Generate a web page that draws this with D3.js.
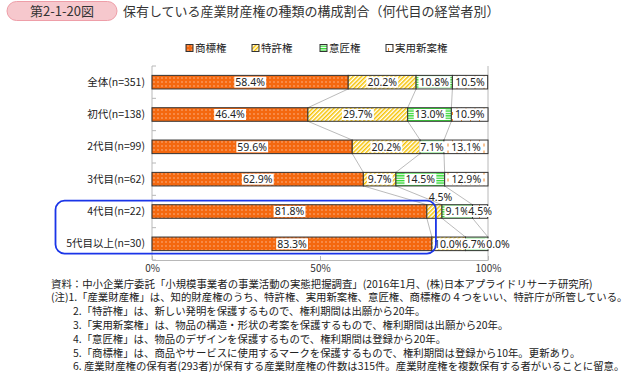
<!DOCTYPE html>
<html>
<head>
<meta charset="utf-8">
<script src="https://cdn.jsdelivr.net/npm/d3@7"></script>
<style>
  body { margin: 0; background: #fff; }
  svg { display: block; }
  text { font-family: "Noto Sans CJK JP", "Noto Sans", sans-serif; fill: #222; }
</style>
</head>
<body>
<div id="vis"></div>
<script>
var categories = ["全体(n=351)", "初代(n=138)", "2代目(n=99)", "3代目(n=62)", "4代目(n=22)", "5代目以上(n=30)"];
var series = ["商標権", "特許権", "意匠権", "実用新案権"];
var trademark = [58.4, 46.4, 59.6, 62.9, 81.8, 83.3];
var patent = [20.2, 29.7, 20.2, 9.7, 4.5, 10.0];
var design = [10.8, 13.0, 7.1, 14.5, 9.1, 6.7];
var utility = [10.5, 10.9, 13.1, 12.9, 4.5, 0.0];
var xTicks = [0, 50, 100];
var notes = [
  "資料：中小企業庁委託「小規模事業者の事業活動の実態把握調査」(2016年1月、(株)日本アプライドリサーチ研究所)",
  "(注)1.「産業財産権」は、知的財産権のうち、特許権、実用新案権、意匠権、商標権の４つをいい、特許庁が所管している。",
  "2.「特許権」は、新しい発明を保護するもので、権利期間は出願から20年。",
  "3.「実用新案権」は、物品の構造・形状の考案を保護するもので、権利期間は出願から20年。",
  "4.「意匠権」は、物品のデザインを保護するもので、権利期間は登録から20年。",
  "5.「商標権」は、商品やサービスに使用するマークを保護するもので、権利期間は登録から10年。更新あり。",
  "6. 産業財産権の保有者(293者)が保有する産業財産権の件数は315件。産業財産権を複数保有する者がいることに留意。"
];

// small stand-in for d3-selection-multi
d3.selection.prototype.attrs = function(o) {
  var sel = this;
  Object.keys(o).forEach(function(k) { sel.attr(k, o[k]); });
  return sel;
};

var values = [trademark, patent, design, utility];
var rows = categories.map(function(c, i) {
  var acc = 0;
  var segs = values.map(function(v, k) {
    var s = { cat: c, key: k, v: v[i], x0: acc, x1: acc + v[i] };
    acc += v[i];
    return s;
  });
  return { cat: c, segs: segs };
});

var W = 636, H = 374;
var svg = d3.select("#vis").append("svg").attr("width", W).attr("height", H);

var x = d3.scaleLinear().domain([0, 100]).range([152, 488]);
var y = d3.scaleBand().domain(categories).range([66, 260]).paddingInner(0.58).paddingOuter(0.29);

// patterns
var defs = svg.append("defs");
var p0 = defs.append("pattern").attrs({ id: "pat0", width: 4, height: 4, patternUnits: "userSpaceOnUse" });
p0.append("rect").attrs({ width: 4, height: 4, fill: "#f4680f" });
p0.append("rect").attrs({ x: 1.5, y: 1.5, width: 1, height: 1, fill: "#fff", opacity: 0.9 });

var p1 = defs.append("pattern").attrs({ id: "pat1", width: 3, height: 3, patternUnits: "userSpaceOnUse", patternTransform: "rotate(45)" });
p1.append("rect").attrs({ width: 3, height: 3, fill: "#fff" });
p1.append("rect").attrs({ width: 1.5, height: 3, fill: "#f6c200" });

var p2 = defs.append("pattern").attrs({ id: "pat2", width: 4, height: 2.4, patternUnits: "userSpaceOnUse" });
p2.append("rect").attrs({ width: 4, height: 2.4, fill: "#fff" });
p2.append("rect").attrs({ width: 4, height: 1.3, fill: "#2fd82f" });

var p3 = defs.append("pattern").attrs({ id: "pat3", width: 9, height: 7, patternUnits: "userSpaceOnUse" });
p3.append("rect").attrs({ width: 9, height: 7, fill: "#fff" });
p3.append("rect").attrs({ x: 2, y: 0, width: 1, height: 3, fill: "#f28a2a" });
p3.append("rect").attrs({ x: 6.5, y: 3.5, width: 1, height: 3, fill: "#f28a2a" });

// title
svg.append("rect").attrs({ x: 7, y: 1.5, width: 110, height: 19, rx: 9.5, fill: "#f6c8cd", stroke: "#ee9ea8" });
svg.append("text").attrs({ x: 62, y: 15.5, "text-anchor": "middle", "font-size": 13 }).style("fill", "#333").text("第2-1-20図");
svg.append("text").attrs({ x: 123, y: 16, "font-size": 13 }).style("fill", "#333")
  .text("保有している産業財産権の種類の構成割合（何代目の経営者別）");

// legend
var legX = [186, 252, 320, 386];
var leg = svg.selectAll(".leg").data(series).enter().append("g")
  .attr("class", "leg")
  .attr("transform", function(d, i) { return "translate(" + legX[i] + ",48)"; });
leg.append("rect").attrs({ x: 0, y: -3.5, width: 7, height: 7, stroke: "#333", "stroke-width": 1,
  fill: function(d, i) { return "url(#pat" + i + ")"; } });
leg.append("text").attrs({ x: 9, y: 4, "font-size": 10.5 }).text(function(d) { return d; });

// frame
var frame = svg.append("g").attr("stroke", "#b8b8b8").attr("fill", "none");
frame.append("line").attrs({ x1: x(0), x2: x(0), y1: 66, y2: 260 });
frame.append("line").attrs({ x1: x(100), x2: x(100), y1: 66, y2: 260 });
d3.range(categories.length + 1).forEach(function(k) {
  var yy = 66 + k * y.step();
  frame.append("line").attrs({ x1: x(0), x2: x(0) + 4, y1: yy, y2: yy });
});

var x_axis = d3.axisBottom(x).tickValues(xTicks).tickSizeInner(-4).tickSizeOuter(0).tickPadding(5)
  .tickFormat(function(d) { return d + "%"; });
var gx = svg.append("g").attr("transform", "translate(0,260)").call(x_axis);
gx.selectAll("path, line").attr("stroke", "#b8b8b8");
gx.selectAll("text").attr("font-size", 10).style("fill", "#333").attr("font-family", "\"Noto Sans CJK JP\", sans-serif");

var y_axis = d3.axisLeft(y).tickSize(0).tickPadding(7);
var gy = svg.append("g").attr("transform", "translate(" + x(0) + ",0)").call(y_axis);
gy.select(".domain").remove();
gy.selectAll("text").attr("font-size", 10.5).style("fill", "#222").attr("font-family", "\"Noto Sans CJK JP\", sans-serif");

// connector lines
var conn = svg.append("g").attr("stroke", "#aaa").attr("stroke-width", 0.8);
rows.forEach(function(r, i) {
  if (i === rows.length - 1) return;
  var nx = rows[i + 1];
  [0, 1, 2].forEach(function(k) {
    conn.append("line").attrs({
      x1: x(r.segs[k].x1), y1: y(r.cat) + y.bandwidth(),
      x2: x(nx.segs[k].x1), y2: y(nx.cat)
    });
  });
});

// bars
var row = svg.selectAll(".row").data(rows).enter().append("g").attr("class", "row");
row.selectAll("rect").data(function(d) { return d.segs; }).enter().append("rect")
  .attr("x", function(d) { return x(d.x0); })
  .attr("y", function(d) { return y(d.cat); })
  .attr("width", function(d) { return x(d.x1) - x(d.x0); })
  .attr("height", y.bandwidth())
  .attr("fill", function(d) { return "url(#pat" + d.key + ")"; })
  .attr("stroke", "#333")
  .attr("stroke-width", 1);

// labels
function isAbove(d) { return d.v > 0 && x(d.x1) - x(d.x0) < 20 && d.key < 3; }
var lab = row.selectAll(".lab").data(function(d) { return d.segs; }).enter().append("g").attr("class", "lab")
  .attr("transform", function(d) {
    var cx = (x(d.x0) + x(d.x1)) / 2, cy = y(d.cat) + y.bandwidth() / 2;
    if (d.v === 0) cx = x(d.x1) + 10;
    else if (isAbove(d)) { cx += 6; cy = y(d.cat) - 7; }
    else if (d.key === 2 && d.x1 > 99.9) cx -= 3;
    return "translate(" + cx + "," + cy + ")";
  });
lab.append("text")
  .attr("text-anchor", "middle")
  .attr("dy", "0.35em")
  .attr("font-size", 10.5)
  .style("font-family", "\"Liberation Sans Narrow\", \"Noto Sans\", sans-serif")
  .style("fill", "#222")
  .text(function(d) { return d.v.toFixed(1) + "%"; });
lab.each(function(d) {
  var g = d3.select(this);
  var bb = g.select("text").node().getBBox();
  if (!isAbove(d)) {
    g.insert("rect", "text").attrs({ x: bb.x - 1, y: -5.5, width: bb.width + 2, height: 11, fill: "#fff" });
  }
});

// highlight box
svg.append("rect").attrs({
  x: 55.5, y: y(categories[4]) - 4, width: x(84.5) - 55.5,
  height: y(categories[5]) + y.bandwidth() + 3 - (y(categories[4]) - 4),
  rx: 9, fill: "none", stroke: "#1a35e8", "stroke-width": 1.8
});

// notes
svg.selectAll(".note").data(notes).enter().append("text")
  .attr("x", function(d, i) { return i < 2 ? 51 : 73; })
  .attr("y", function(d, i) { return 287.5 + i * 13.8; })
  .attr("font-size", 10.4)
  .style("fill", "#222")
  .text(function(d) { return d; });
</script>
</body>
</html>
